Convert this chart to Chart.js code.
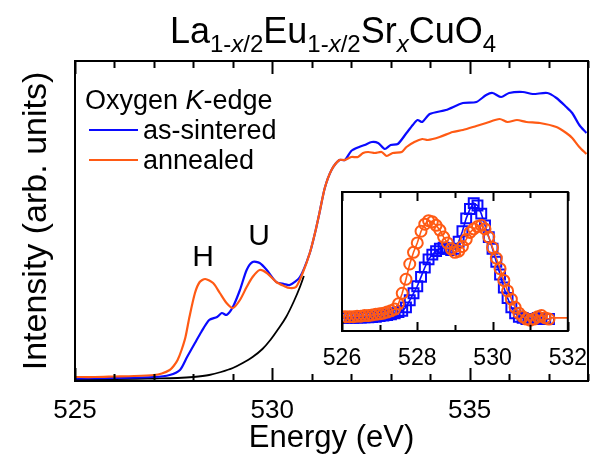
<!DOCTYPE html>
<html>
<head>
<meta charset="utf-8">
<script src="https://cdn.jsdelivr.net/npm/chart.js@4/dist/chart.umd.min.js"></script>
<style>
  body { margin: 0; background: #fff; }
  #wrap { position: relative; width: 593px; height: 463px; }
  #main { position: absolute; left: 0; top: 0; }
  #inset { position: absolute; left: 310px; top: 180px; }
</style>
</head>
<body>
<div id="wrap">
  <canvas id="main" width="593" height="463"></canvas>
  <canvas id="inset" width="283" height="200"></canvas>
</div>
<script>
// O K-edge XAS  La(1-x/2)Eu(1-x/2)Sr(x)CuO4
const FONT = '"Liberation Sans", Arial, sans-serif';
const BLUE = '#0a0aff';
const ORANGE = '#ff5a14';

// 主図: as-sintered (青)
const sinteredE = [525.0, 526.0, 527.0, 527.4, 527.66, 527.84, 528.04, 528.2, 528.4, 528.6, 528.72, 528.84, 529.0, 529.18, 529.35, 529.5, 529.68, 529.86, 530.1, 530.3, 530.44, 530.7, 530.95, 531.1, 531.2, 531.33, 531.5, 531.7, 531.84, 532.0, 532.2, 532.34, 532.52, 532.68, 532.85, 533.0, 533.18, 533.4, 533.56, 533.68, 533.8, 533.99, 534.4, 534.83, 535.17, 535.42, 535.58, 535.8, 536.0, 536.35, 536.6, 536.97, 537.2, 537.45, 537.6, 537.78, 537.96];
const sinteredI = [0.005, 0.01, 0.02, 0.04, 0.09, 0.22, 0.36, 0.47, 0.59, 0.62, 0.66, 0.64, 0.72, 0.89, 1.09, 1.17, 1.16, 1.09, 0.97, 0.95, 0.94, 1.02, 1.26, 1.49, 1.67, 1.91, 2.09, 2.19, 2.19, 2.28, 2.32, 2.34, 2.37, 2.36, 2.30, 2.34, 2.35, 2.46, 2.54, 2.59, 2.57, 2.65, 2.69, 2.76, 2.77, 2.84, 2.86, 2.82, 2.86, 2.87, 2.85, 2.86, 2.81, 2.72, 2.66, 2.54, 2.46];

// 主図: annealed (オレンジ)
const annealedE = [525.0, 525.5, 526.0, 526.5, 527.0, 527.2, 527.4, 527.5, 527.6, 527.7, 527.8, 527.9, 528.04, 528.16, 528.3, 528.5, 528.67, 528.84, 529.0, 529.18, 529.35, 529.5, 529.68, 529.86, 530.1, 530.3, 530.44, 530.6, 530.77, 530.95, 531.1, 531.2, 531.33, 531.5, 531.7, 531.84, 532.0, 532.17, 532.3, 532.43, 532.6, 532.77, 532.9, 533.05, 533.28, 533.4, 533.6, 533.8, 533.94, 534.24, 534.57, 534.83, 535.17, 535.42, 535.76, 535.96, 536.2, 536.44, 536.78, 537.2, 537.45, 537.6, 537.78, 537.96];
const annealedI = [0.02, 0.02, 0.025, 0.03, 0.04, 0.055, 0.09, 0.13, 0.19, 0.29, 0.42, 0.62, 0.86, 0.97, 1.00, 0.96, 0.86, 0.76, 0.71, 0.79, 0.92, 1.02, 1.09, 1.06, 0.97, 0.93, 0.91, 0.92, 1.06, 1.26, 1.49, 1.67, 1.91, 2.09, 2.19, 2.19, 2.22, 2.22, 2.26, 2.27, 2.26, 2.27, 2.23, 2.26, 2.27, 2.32, 2.37, 2.40, 2.39, 2.42, 2.47, 2.49, 2.53, 2.56, 2.60, 2.57, 2.59, 2.57, 2.56, 2.52, 2.46, 2.41, 2.32, 2.25];

// バックグラウンド (黒)
const bgE = [525.0, 526.0, 527.0, 527.6, 528.0, 528.4, 528.7, 529.0, 529.25, 529.5, 529.75, 529.95, 530.15, 530.35, 530.55, 530.7, 530.8];
const bgI = [0.0, 0.0, 0.005, 0.01, 0.02, 0.04, 0.07, 0.11, 0.16, 0.22, 0.30, 0.39, 0.50, 0.62, 0.78, 0.92, 1.03];

const xTickLabels = [525, 530, 535];

// インセット (バックグラウンド差し引き後)
const insetE = [526.0, 526.1, 526.2, 526.3, 526.4, 526.5, 526.6, 526.7, 526.8, 526.9,
                527.0, 527.1, 527.2, 527.3, 527.4, 527.5, 527.6, 527.7, 527.8, 527.9,
                528.0, 528.1, 528.2, 528.3, 528.4, 528.5, 528.6, 528.7, 528.8, 528.9,
                529.0, 529.1, 529.2, 529.3, 529.4, 529.5, 529.6, 529.7, 529.8, 529.9,
                530.0, 530.1, 530.2, 530.3, 530.4, 530.5, 530.6, 530.7, 530.8, 530.9,
                531.0, 531.1, 531.2, 531.3, 531.4, 531.5];
const insetSintered = [0.01, 0.01, 0.01, 0.01, 0.012, 0.012, 0.014, 0.015, 0.017, 0.02,
                       0.025, 0.03, 0.035, 0.04, 0.05, 0.06, 0.07, 0.10, 0.16, 0.22,
                       0.28, 0.36, 0.44, 0.51, 0.55, 0.58, 0.60, 0.61, 0.60, 0.59,
                       0.60, 0.66, 0.75, 0.86, 0.94, 0.99, 0.97, 0.90, 0.80, 0.70,
                       0.60, 0.49, 0.38, 0.27, 0.18, 0.10, 0.05, 0.02, 0.01, 0.0,
                       0.0, 0.0, 0.01, 0.01, 0.0, 0.0];
const insetAnnealed = [0.02, 0.02, 0.02, 0.02, 0.025, 0.025, 0.03, 0.03, 0.035, 0.04,
                       0.045, 0.05, 0.06, 0.07, 0.085, 0.13, 0.22, 0.34, 0.47, 0.57,
                       0.65, 0.75, 0.81, 0.84, 0.83, 0.80, 0.76, 0.70, 0.65, 0.60,
                       0.57, 0.58, 0.62, 0.68, 0.74, 0.77, 0.79, 0.80, 0.77, 0.70,
                       0.61, 0.52, 0.43, 0.33, 0.24, 0.17, 0.10, 0.05, 0.02, 0.0,
                       -0.01, 0.0, 0.02, 0.03, 0.01, 0.0];
const insetTailE = [531.5, 532.0];
const insetTailI = [0.01, 0.01];
const insetTickLabels = [526, 528, 530, 532];

function toXY(xs, ys) { return xs.map((x, i) => ({ x: x, y: ys[i] })); }

// 枠と内向きの目盛りを描く
const frameTicks = {
  id: 'frameTicks',
  afterDraw(chart, args, o) {
    const { ctx, chartArea: a } = chart;
    const x = chart.scales.x;
    ctx.save();
    ctx.strokeStyle = '#000';
    ctx.lineWidth = o.width;
    ctx.strokeRect(a.left, a.top, a.right - a.left, a.bottom - a.top);
    ctx.beginPath();
    for (let v = o.from; v <= o.to + 1e-6; v += o.step) {
      const px = Math.round(x.getPixelForValue(v)) + 0.5;
      const major = Math.abs(v % o.major) < 1e-6;
      const len = major ? o.majorLen : o.minorLen;
      ctx.moveTo(px, a.bottom); ctx.lineTo(px, a.bottom - len);
      ctx.moveTo(px, a.top); ctx.lineTo(px, a.top + len);
    }
    ctx.stroke();
    ctx.restore();
  }
};

// タイトル・凡例・H/U のラベル
const textPlugin = {
  id: 'texts',
  afterDraw(chart) {
    const ctx = chart.ctx;
    ctx.save();
    ctx.fillStyle = '#000';
    ctx.textBaseline = 'alphabetic';
    ctx.textAlign = 'left';

    // タイトル (下付き文字つき)
    const runs = [
      { t: 'La' }, { t: '1-', s: 1 }, { t: 'x', s: 1, i: 1 }, { t: '/2', s: 1 },
      { t: 'Eu' }, { t: '1-', s: 1 }, { t: 'x', s: 1, i: 1 }, { t: '/2', s: 1 },
      { t: 'Sr' }, { t: 'x', s: 1, i: 1 },
      { t: 'CuO' }, { t: '4', s: 1 }
    ];
    const fontOf = r => (r.i ? 'italic ' : '') + (r.s ? 24 : 36) + 'px ' + FONT;
    let total = 0;
    runs.forEach(r => { ctx.font = fontOf(r); total += ctx.measureText(r.t).width; });
    let tx = 333 - total / 2;
    runs.forEach(r => {
      ctx.font = fontOf(r);
      ctx.fillText(r.t, tx, r.s ? 52 : 43);
      tx += ctx.measureText(r.t).width;
    });

    // 凡例
    ctx.font = '27px ' + FONT;
    let lx = 85;
    ctx.fillText('Oxygen ', lx, 109); lx += ctx.measureText('Oxygen ').width;
    ctx.font = 'italic 27px ' + FONT;
    ctx.fillText('K', lx, 109); lx += ctx.measureText('K').width;
    ctx.font = '27px ' + FONT;
    ctx.fillText('-edge', lx, 109);

    const items = chart.data.datasets.filter(d => d.inLegend);
    items.forEach((d, k) => {
      const y = 130 + k * 30;
      ctx.strokeStyle = d.borderColor;
      ctx.lineWidth = 2;
      ctx.beginPath(); ctx.moveTo(89, y); ctx.lineTo(138, y); ctx.stroke();
      ctx.fillText(d.label, 143, y + 9);
    });

    // ピーク名
    ctx.font = '30px ' + FONT;
    ctx.textAlign = 'center';
    ctx.textBaseline = 'middle';
    ctx.fillText('H', 203, 258);
    ctx.fillText('U', 259, 237);
    ctx.restore();
  }
};

new Chart(document.getElementById('main'), {
  type: 'line',
  data: {
    datasets: [
      { label: 'as-sintered', inLegend: true, data: toXY(sinteredE, sinteredI), borderColor: BLUE,
        borderWidth: 2.2, pointRadius: 0, tension: 0.25, order: 2 },
      { label: 'annealed', inLegend: true, data: toXY(annealedE, annealedI), borderColor: ORANGE,
        borderWidth: 2.2, pointRadius: 0, tension: 0.25, order: 1 },
      { label: 'background', data: toXY(bgE, bgI), borderColor: '#000', borderWidth: 1.8,
        pointRadius: 0, cubicInterpolationMode: 'monotone', order: 3 }
    ]
  },
  options: {
    responsive: false,
    animation: false,
    devicePixelRatio: 1,
    layout: { padding: { top: 61, right: 5, left: 0, bottom: 0 } },
    plugins: {
      legend: { display: false },
      tooltip: { enabled: false },
      frameTicks: { from: 525, to: 538, step: 1, major: 5, majorLen: 13, minorLen: 7, width: 2 }
    },
    scales: {
      x: {
        type: 'linear', min: 525, max: 538,
        grid: { display: false }, border: { display: false },
        afterBuildTicks: s => { s.ticks = xTickLabels.map(v => ({ value: v })); },
        afterFit: s => { s.height = 82; },
        ticks: { font: { family: FONT, size: 26 }, color: '#000', padding: 6, maxRotation: 0 },
        title: { display: true, text: 'Energy (eV)', color: '#000',
                 font: { family: FONT, size: 31 }, padding: { top: 0, bottom: 6 } }
      },
      y: {
        min: -0.02, max: 3.18,
        grid: { display: false }, border: { display: false },
        ticks: { display: false },
        afterFit: s => { s.width = 75; },
        title: { display: true, text: 'Intensity (arb. units)', color: '#000',
                 font: { family: FONT, size: 34 }, padding: { top: 16, bottom: 0 } }
      }
    }
  },
  plugins: [frameTicks, textPlugin]
});

// インセット
new Chart(document.getElementById('inset'), {
  type: 'line',
  data: {
    datasets: [
      { label: 'annealed', data: toXY(insetE, insetAnnealed), borderColor: ORANGE, borderWidth: 1.6,
        pointStyle: 'circle', pointRadius: 5.5, pointBorderWidth: 2, pointBackgroundColor: 'rgba(0,0,0,0)',
        pointBorderColor: ORANGE, tension: 0, order: 1 },
      { label: 'annealed tail', data: toXY(insetTailE, insetTailI), borderColor: ORANGE, borderWidth: 1.6,
        pointRadius: 0, order: 1 },
      { label: 'as-sintered', data: toXY(insetE, insetSintered), borderColor: BLUE, borderWidth: 1.6,
        pointStyle: 'rect', pointRadius: 7, pointBorderWidth: 2, pointBackgroundColor: 'rgba(0,0,0,0)',
        pointBorderColor: BLUE, tension: 0, order: 2 }
    ]
  },
  options: {
    responsive: false,
    animation: false,
    devicePixelRatio: 1,
    layout: { padding: { top: 12, right: 25, left: 32, bottom: 0 } },
    plugins: {
      legend: { display: false },
      tooltip: { enabled: false },
      frameTicks: { from: 526, to: 532, step: 1, major: 2, majorLen: 9, minorLen: 6, width: 2 }
    },
    scales: {
      x: {
        type: 'linear', min: 526, max: 532,
        grid: { display: false }, border: { display: false },
        afterBuildTicks: s => { s.ticks = insetTickLabels.map(v => ({ value: v })); },
        afterFit: s => { s.height = 49; },
        ticks: { font: { family: FONT, size: 23 }, color: '#000', padding: 6, maxRotation: 0 }
      },
      y: { display: false, min: -0.102, max: 1.085 }
    }
  },
  plugins: [frameTicks]
});
</script>
</body>
</html>
